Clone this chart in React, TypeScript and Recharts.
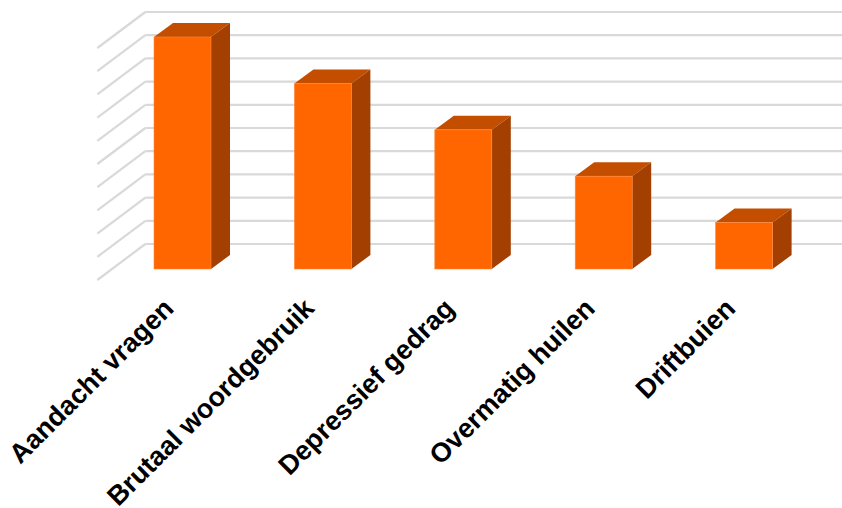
import { BarChart, Bar, XAxis, YAxis, CartesianGrid } from 'recharts';

const categories = [
  'Aandacht vragen',
  'Brutaal woordgebruik',
  'Depressief gedrag',
  'Overmatig huilen',
  'Driftbuien',
];
const values = [10, 8, 6, 4, 2];
const yTicks = [0, 1, 2, 3, 4, 5, 6, 7, 8, 9, 10];

const data = categories.map((name, i) => ({ name, value: values[i] }));

// oblique depth of the bars and of the floor
const BAR_DX = 19;
const BAR_DY = -14;
const WALL_BACK = 25; // bar plane -> back wall (in y px)
const WALL_FRONT = 11; // bar plane -> front edge of floor
const SLOPE = 48 / 36;

const Bar3D = (props: any) => {
  const { x, y, width, height } = props;
  if (!height) return null;
  const r = x + width;
  const b = y + height;
  return (
    <g>
      <polygon
        points={`${x},${y} ${x + BAR_DX},${y + BAR_DY} ${r + BAR_DX},${y + BAR_DY} ${r},${y}`}
        fill="#C44E00"
      />
      <polygon
        points={`${r},${y} ${r + BAR_DX},${y + BAR_DY} ${r + BAR_DX},${b + BAR_DY} ${r},${b}`}
        fill="#A33F00"
      />
      <rect x={x} y={y} width={width} height={height} fill="#FF6600" stroke="#FF8A3D" strokeWidth={0.6} />
    </g>
  );
};

const GridLine = (props: any) => {
  const { y1, x1, index } = props;
  const backY = y1 - WALL_BACK;
  const backX = x1 + WALL_BACK * SLOPE;
  const frontX = x1 - WALL_FRONT * SLOPE;
  const frontY = y1 + WALL_FRONT;
  return (
    <g key={`g-${index}`}>
      <line x1={backX} y1={backY} x2={842} y2={backY} stroke="#D9D9D9" strokeWidth={2.2} />
      <line x1={frontX} y1={frontY} x2={backX} y2={backY} stroke="#D9D9D9" strokeWidth={2.2} />
    </g>
  );
};

const Tick = (props: any) => {
  const { x, y, payload } = props;
  const tx = x - 7;
  const ty = y + 33;
  return (
    <text
      x={tx}
      y={ty}
      transform={`rotate(-45 ${tx} ${ty})`}
      textAnchor="end"
      fontFamily="Liberation Sans, Arial, sans-serif"
      fontWeight="bold"
      fontSize={27}
      fill="#000"
    >
      {payload.value}
    </text>
  );
};

export default function App() {
  return (
    <div style={{ position: 'absolute', left: 0, top: 0, width: 842, height: 508, background: '#fff' }}>
      <BarChart
        width={842}
        height={508}
        data={data}
        margin={{ top: 37, right: 28, left: 112, bottom: 0 }}
        barSize={57}
      >
        <CartesianGrid vertical={false} horizontal={GridLine} />
        <XAxis
          dataKey="name"
          height={239}
          axisLine={false}
          tickLine={false}
          interval={0}
          tick={Tick}
        />
        <YAxis hide width={0} domain={[0, 10]} ticks={yTicks} />
        <Bar dataKey="value" shape={Bar3D} isAnimationActive={false} />
      </BarChart>
    </div>
  );
}
